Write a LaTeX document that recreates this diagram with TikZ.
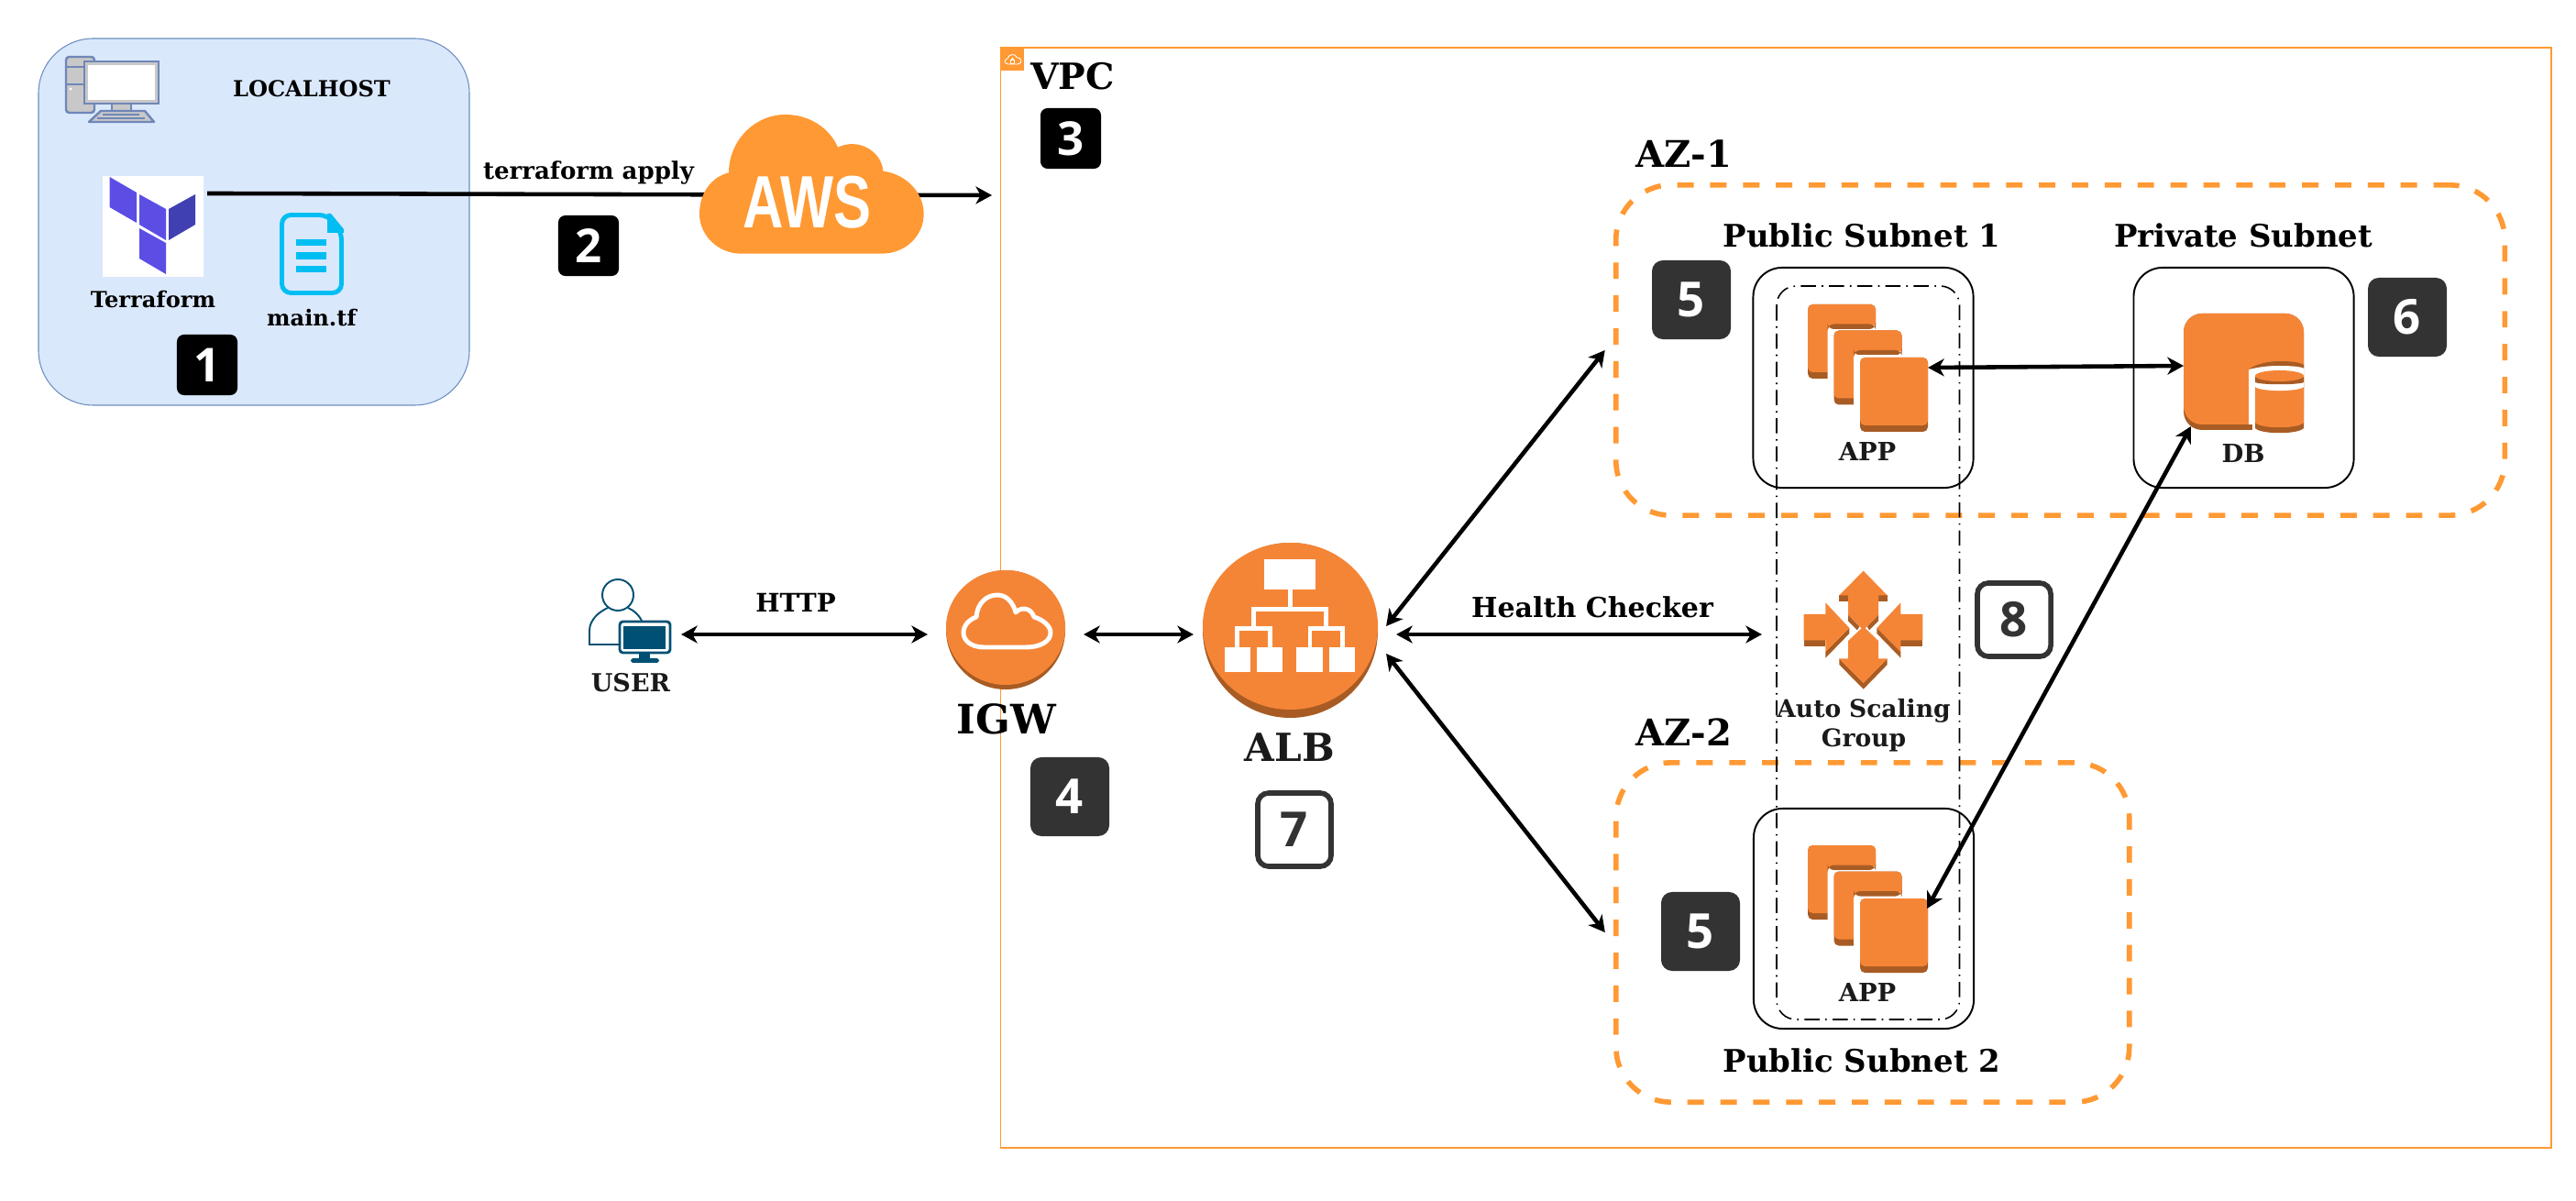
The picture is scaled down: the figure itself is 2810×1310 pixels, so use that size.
\documentclass[tikz,border=0pt]{standalone}
\usepackage{fontspec}
\setmainfont{DejaVu Serif}
\newfontfamily\digitfont{Open Sans}
\newfontfamily\awsfont{Liberation Sans}
\usetikzlibrary{arrows.meta}
\definecolor{vpcorange}{HTML}{FF9933}
\definecolor{awsorange}{HTML}{F58536}
\definecolor{awsdark}{HTML}{A85C24}
\definecolor{userblue}{HTML}{005073}
\definecolor{docblue}{HTML}{00BEF2}
\definecolor{tfpurple}{HTML}{5C4EE5}
\definecolor{tfdark}{HTML}{4040B2}
\definecolor{hostfill}{HTML}{DAE8FC}
\definecolor{hostline}{HTML}{6C8EBF}
\definecolor{pcgrey}{HTML}{C8C8C8}
\definecolor{pcline}{HTML}{6F87B8}
\definecolor{badgegrey}{HTML}{333333}
\definecolor{inkgrey}{HTML}{1A1A1A}
\tikzset{
    lab/.style={font=\bfseries\fontsize{#1}{#1}\selectfont,inner sep=0,align=center},
    iconbox/.style={rectangle,inner sep=0,outer sep=0},
    blackbadge/.style={rectangle,rounded corners=2.2pt,fill=black,text=white,minimum width=.66cm,minimum height=.66cm,inner sep=0,font=\digitfont\bfseries\fontsize{14.5}{14.5}\selectfont},
    darkbadge/.style={rectangle,rounded corners=3.4pt,fill=badgegrey,text=white,minimum width=.86cm,minimum height=.86cm,inner sep=0,font=\digitfont\bfseries\fontsize{15}{15}\selectfont},
    whitebadge/.style={rectangle,rounded corners=3.4pt,draw=badgegrey,line width=1.6pt,fill=white,text=badgegrey,minimum width=.80cm,minimum height=.80cm,inner sep=0,font=\digitfont\bfseries\fontsize{15}{15}\selectfont},
    azbox/.style={rectangle,draw=vpcorange,line width=1.6pt,dash pattern=on 5.1pt off 5.1pt,rounded corners=17pt,inner sep=0,outer sep=0},
    subnetbox/.style={rectangle,draw=black,line width=.55pt,rounded corners=9pt,inner sep=0,outer sep=0,minimum width=2.40cm,minimum height=2.40cm},
    conn/.style={line width=1.3pt},
    appcard/.pic={
        \fill[awsdark,rounded corners=1.5pt](0,0) rectangle (74,81);
        \fill[awsorange,rounded corners=1.5pt](0,0) rectangle (74,74);
    },
    appgap/.pic={
        \fill[white,rounded corners=2pt](21.5,23) rectangle (82,90);
        \fill[awsdark,rounded corners=2pt](21.5,21.5) rectangle (74,27);
        \fill[white](24,27) rectangle (82,90);
    },
    appstack/.pic={
        \pic at (0,0) {appcard};
        \pic at (0,0) {appgap};
        \pic at (28.5,28.5) {appcard};
        \pic at (28.5,28.5) {appgap};
        \pic at (57,58) {appcard};
    },
}
\begin{document}
\begin{tikzpicture}[x=.01cm,y=-.01cm,>={Stealth[length=5pt,width=5.4pt,inset=1.5pt]}]
    \useasboundingbox (0,0) rectangle (2810,1310);

    \node[iconbox,draw=vpcorange,line width=.55pt,minimum width=16.90cm,minimum height=12.00cm] (vpc) at (1937,652) {};
    \fill[vpcorange] (1092,52) rectangle (1117,77);
    \begin{scope}[shift={(740,40)},scale=1/3]
        \draw[white,line width=.25pt] (1080,90) .. controls (1066,90) and (1064,74) .. (1077,72) .. controls (1080,56) and (1104,54) .. (1107,68) .. controls (1124,66) and (1128,90) .. (1110,90) -- cycle;
        \draw[white,line width=.25pt] (1086,76) rectangle (1100,87);
        \draw[white,line width=.25pt] (1089,76) .. controls (1089,68) and (1097,68) .. (1097,76);
    \end{scope}
    \node[lab=11.2] (vpclabel) at (1170,83) {VPC};
    \node[blackbadge] (badgethree) at (1168,151) {3};

    \draw[hostline,fill=hostfill,line width=.3pt,rounded corners=17pt] (42,42) rectangle (512,442);
    \fill[pcgrey,draw=pcline,line width=.7pt,rounded corners=1pt] (72,62) rectangle (103,123);
    \draw[pcline,line width=.7pt] (72,73)--(92,73);
    \draw[pcline,line width=.7pt] (72,92)--(92,92);
    \fill[white] (77,97) circle (1.7);
    \fill[pcgrey,draw=pcline,line width=.7pt] (122,113) rectangle (143,121);
    \fill[pcgrey,draw=pcline,line width=.7pt] (92,67) rectangle (173,113);
    \fill[white] (96,71) rectangle (169,109);
    \fill[pcgrey,draw=pcline,line width=.7pt,line join=round] (97,133)--(168,133)--(158,121)--(110,121)--cycle;
    \draw[pcline,line width=.7pt] (112,125)--(152,125);
    \draw[pcline,line width=.7pt] (106,129)--(158,129);
    \node[lab=6.85] (localhost) at (340,97) {LOCALHOST};
    \node[iconbox,fill=white,minimum width=1.10cm,minimum height=1.10cm] (terraform) at (167,247) {};
    \fill[tfpurple] (119.5,193)--(149,210)--(149,243)--(119.5,226)--cycle;
    \fill[tfpurple] (152,212)--(181,228)--(181,262)--(152,245)--cycle;
    \fill[tfdark] (184,228)--(213,212)--(213,245)--(184,262)--cycle;
    \fill[tfpurple] (152,249)--(181,265)--(181,299)--(152,282)--cycle;
    \node[lab=6.85] (terraformlabel) at (167,327) {Terraform};
    \draw[docblue,line width=1.4pt,rounded corners=2.8pt] (307.5,234.5)--(358,234.5)--(372.5,252)--(372.5,319.5)--(307.5,319.5)--cycle;
    \fill[docblue] (357,233)--(361,233)--(375,250)--(375,254)--(357,254)--cycle;
    \fill[docblue] (323,261) rectangle (356,268);
    \fill[docblue] (323,275) rectangle (356,283);
    \fill[docblue] (323,290) rectangle (356,297);
    \node[lab=6.85] (maintf) at (340,347) {main.tf};
    \node[blackbadge] (badgeone) at (226,398) {1};

    \coordinate (vpcin) at (1082,213);
    \draw[conn,->] ([xshift=.04cm,yshift=.36cm]terraform.east)--(vpcin);
    \node[lab=7.4,above] (apply) at (642,202) {terraform apply};
    \node[blackbadge] (badgetwo) at (642,268) {2};
    \begin{scope}[shift={(740,40)},scale=1/3]
        \fill[vpcorange] (205,710) .. controls (130,710) and (69,650) .. (69,580) .. controls (69,515) and (105,460) .. (165,445) .. controls (165,340) and (250,255) .. (350,255) .. controls (430,255) and (495,300) .. (522,362) .. controls (590,330) and (665,375) .. (670,440) .. controls (745,450) and (803,510) .. (803,580) .. controls (803,650) and (745,710) .. (665,710) -- cycle;
    \end{scope}
    \node[inner sep=0,text=white,font=\awsfont\bfseries\fontsize{23}{23}\selectfont] (aws) at (880,221) {\scalebox{.76}[1]{AWS}};

    \node[iconbox,minimum width=1.00cm,minimum height=.90cm] (user) at (693,692) {};
    \draw[userblue,line width=.55pt] (674,649) circle (17);
    \draw[userblue,line width=.55pt] (675,703)--(643,703)--(643,688) .. controls (643,677) and (652,668) .. (663,663);
    \draw[userblue,line width=.55pt] (685,663) .. controls (692,666) and (697,671) .. (700,677);
    \draw[userblue,fill=white,line width=.8pt,rounded corners=1pt] (676,678) rectangle (731,712);
    \fill[userblue] (680,683) rectangle (726,708);
    \fill[userblue] (697,713) rectangle (709,719);
    \fill[userblue,rounded corners=.8pt] (688,718) rectangle (719,723);
    \node[lab=7.7,text=inkgrey] (userlabel) at (688,745) {USER};
    \node[lab=7.9] (http) at (868,657) {HTTP};

    \node[iconbox,minimum width=1.70cm,minimum height=1.40cm] (igw) at (1097,692) {};
    \fill[awsdark] (1097,687) circle (65);
    \fill[awsorange] (1097,684.5) ellipse (65 and 62.5);
    \draw[white,line width=1.4pt,line join=round] (1074,706) .. controls (1058,706) and (1051,698) .. (1051,690) .. controls (1051,682) and (1057,676) .. (1065,673) .. controls (1066,658) and (1076,649) .. (1088,649) .. controls (1098,649) and (1105,657) .. (1108,668) .. controls (1112,663) and (1124,661) .. (1128,673) .. controls (1138,676) and (1146,683) .. (1146,690) .. controls (1146,700) and (1134,706) .. (1119,706) -- cycle;
    \node[lab=12.6] (igwlabel) at (1098,784) {IGW};
    \node[darkbadge] (badgefour) at (1167,869) {4};

    \node[iconbox,minimum width=2.10cm,minimum height=.60cm] (alb) at (1407,692) {};
    \fill[awsdark] (1407.5,687.5) circle (95.5);
    \fill[awsorange] (1407.5,683) ellipse (95.5 and 91);
    \fill[white] (1379,610) rectangle (1435,643);
    \draw[white,line width=1.4pt] (1407.5,643)--(1407.5,664.5);
    \draw[white,line width=1.4pt] (1367.5,685.5)--(1367.5,664.5)--(1446.5,664.5)--(1446.5,685.5);
    \draw[white,line width=1.4pt] (1349.5,706)--(1349.5,685.5)--(1385.5,685.5)--(1385.5,706);
    \draw[white,line width=1.4pt] (1429,706)--(1429,685.5)--(1464.5,685.5)--(1464.5,706);
    \fill[white] (1336,706) rectangle (1364,733);
    \fill[white] (1371,706) rectangle (1399,733);
    \fill[white] (1414,706) rectangle (1443,733);
    \fill[white] (1450,706) rectangle (1478,733);
    \node[lab=12,text=inkgrey] (alblabel) at (1407,815) {ALB};
    \node[whitebadge] (badgeseven) at (1412,905) {7};

    \node[azbox,minimum width=9.69cm,minimum height=3.60cm] (azone) at (2247.5,382) {};
    \node[azbox,minimum width=5.595cm,minimum height=3.70cm] (aztwo) at (2042.75,1017) {};
    \node[lab=11.4] (azonelabel) at (1837,168) {AZ-1};
    \node[lab=11.4] (aztwolabel) at (1837,799) {AZ-2};

    \node[subnetbox] (subnetone) at (2032.5,412) {};
    \node[subnetbox] (subnetpriv) at (2447.5,412) {};
    \node[subnetbox] (subnettwo) at (2033,1002) {};
    \draw[black,line width=.45pt,dash pattern=on 4.7pt off 1.8pt on .45pt off 1.8pt,rounded corners=6pt] (1938,312) rectangle (2137.5,1112);
    \node[lab=9.65] (subnetonelabel) at (2031,257) {Public Subnet 1};
    \node[lab=9.65] (subnetprivlabel) at (2447,257) {Private Subnet};
    \node[lab=9.65] (subnettwolabel) at (2031,1157) {Public Subnet 2};
    \node[darkbadge] (badgefive) at (1845,327) {5};
    \node[darkbadge] (badgefivetwo) at (1855,1016) {5};
    \node[darkbadge] (badgesix) at (2626,346) {6};
    \node[whitebadge] (badgeeight) at (2197,676) {8};

    \node[iconbox,minimum width=1.32cm,minimum height=1.30cm] (appone) at (2037,401) {};
    \pic at (1972,332) {appstack};
    \node[lab=7.8,text=inkgrey] (apponelabel) at (2037,493) {APP};
    \node[iconbox,minimum width=1.30cm,minimum height=1.30cm] (apptwo) at (2037,991) {};
    \pic at (1972,922) {appstack};
    \node[lab=7.8,text=inkgrey] (apptwolabel) at (2037,1082) {APP};

    \node[iconbox,minimum width=1.31cm,minimum height=1.32cm] (db) at (2447.5,399) {};
    \fill[awsdark,rounded corners=5.7pt] (2382,342)--(2513,342)--(2513,469)--(2382,469)--cycle;
    \fill[awsorange,rounded corners=5.7pt] (2382,342)--(2513,342)--(2513,463)--(2382,463)--cycle;
    \fill[awsdark] (2453,403) .. controls (2460,397) and (2475,394) .. (2487,394) .. controls (2498,394) and (2508,395) .. (2513,398)--(2513,410)--(2453,410)--cycle;
    \fill[white] (2453,403) .. controls (2465,400) and (2475,399) .. (2487,399) .. controls (2500,399) and (2510,400) .. (2513.5,402)--(2513.5,476)--(2457,476)--(2457,463)--(2453,463)--cycle;
    \fill[awsdark] (2460,411)--(2460,467) .. controls (2466,474) and (2507,474) .. (2513,467)--(2513,411)--cycle;
    \fill[awsorange] (2460,411)--(2460,461) .. controls (2466,468) and (2507,468) .. (2513,461)--(2513,411)--cycle;
    \fill[white] (2460,411)--(2460,422) .. controls (2466,427.5) and (2507,427.5) .. (2513,422)--(2513,411)--cycle;
    \fill[awsdark] (2460,411)--(2460,417) .. controls (2466,420) and (2507,420) .. (2513,417)--(2513,411)--cycle;
    \fill[awsorange] (2486.5,410) ellipse (26.5 and 6);
    \node[lab=7.8,text=inkgrey] (dblabel) at (2447,495) {DB};

    \node[iconbox,minimum width=2.22cm,minimum height=.80cm] (asg) at (2033,692) {};
    \begin{scope}[shift={(1900,600)},scale=1/3]
        \fill[awsdark] (319,148)--(476,148)--(476,168)--(319,168)--cycle;
        \fill[awsdark] (348,212)--(385,250)--(378,262)--(348,232)--cycle;
        \fill[awsdark] (447,212)--(410,250)--(417,262)--(447,232)--cycle;
        \fill[awsorange] (398,68)--(476,148)--(447,148)--(447,212)--(398,262)--(348,212)--(348,148)--(319,148)--cycle;
        \fill[awsdark] (319,355)--(398,435)--(476,355)--(476,375)--(398,455)--(319,375)--cycle;
        \fill[awsorange] (398,250)--(447,297)--(447,355)--(476,355)--(398,435)--(319,355)--(348,355)--(348,297)--cycle;
        \fill[awsdark] (203,295)--(274,295)--(274,315)--(203,315)--cycle;
        \fill[awsdark] (352,255)--(274,333)--(274,353)--(352,273)--cycle;
        \fill[awsorange] (203,210)--(274,210)--(274,172)--(352,255)--(274,333)--(274,295)--(203,295)--cycle;
        \fill[awsdark] (592,295)--(520,295)--(520,315)--(592,315)--cycle;
        \fill[awsdark] (442,255)--(520,333)--(520,353)--(442,273)--cycle;
        \fill[awsorange] (592,210)--(520,210)--(520,172)--(442,255)--(520,333)--(520,295)--(592,295)--cycle;
    \end{scope}
    \node[lab=7.55,text=inkgrey,text width=3cm] (asglabel) at (2033,791) {Auto Scaling\\[1.5pt]Group};
    \node[lab=8.55,above] (health) at (1737,675) {Health Checker};

    \draw[conn,<->] (user.east)--(igw.west);
    \draw[conn,<->] (igw.east)--(alb.west);
    \draw[conn,<->] ([xshift=.11cm]alb.east)--(asg.west);
    \draw[conn,<->] ([yshift=.09cm]alb.east)--([xshift=-.12cm]azone.west);
    \draw[conn,<->] ([yshift=-.21cm]alb.east)--([xshift=-.12cm]aztwo.west);
    \draw[conn,<->] (appone.east)--(db.west);
    \draw[conn,<->] (apptwo.east)--([xshift=.08cm]db.south west);
\end{tikzpicture}
\end{document}
